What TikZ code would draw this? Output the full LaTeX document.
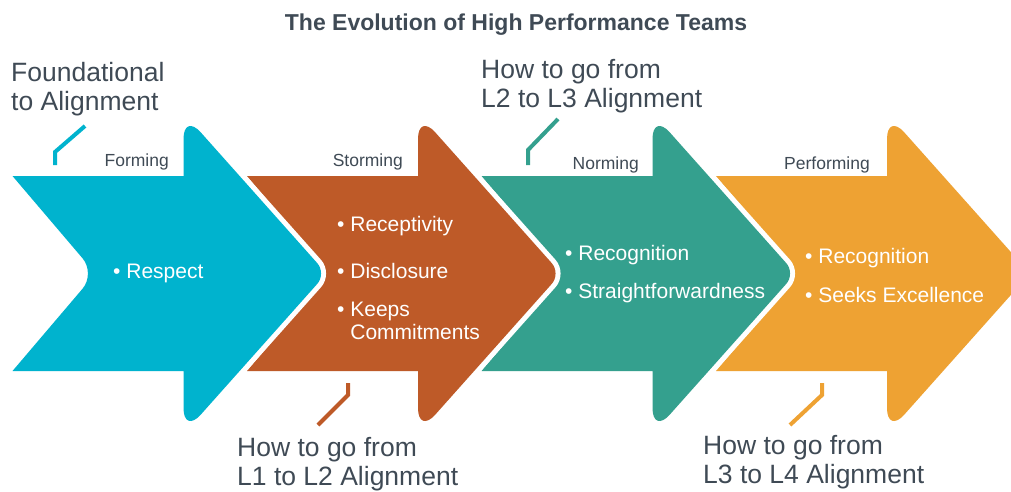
\documentclass[tikz,border=0pt]{standalone}
\usepackage{fontspec}
\setmainfont{Liberation Sans}
\usetikzlibrary{positioning}
\definecolor{FormCyan}  {HTML}{00B3CE}
\definecolor{StormRust} {HTML}{BE5A28}
\definecolor{NormTeal}  {HTML}{34A08E}
\definecolor{PerfGold}  {HTML}{EEA233}
\definecolor{Slate}     {HTML}{3F4A55}
\begin{document}
\begin{tikzpicture}[x=1pt,y=-1pt,
  stage/.style={preaction={draw=white,line width=10pt}},
  phase/.style={font=\fontsize{17.5}{20}\selectfont,text=Slate,inner sep=0pt,anchor=base east},
  item/.style={font=\fontsize{21}{23}\selectfont,text=white,inner sep=0pt,anchor=base west},
  callout/.style={font=\fontsize{26.5}{28.5}\selectfont,text=Slate,inner sep=0pt,anchor=base west,align=left},
  leader/.style={line width=4pt}
]
\clip (0,0) rectangle (1011,491);
\node[font=\bfseries\fontsize{23}{26}\selectfont,text=Slate,anchor=base](title) at (516,30){The Evolution of High Performance Teams};
% stage arrows, right to left so each tip lies over the next notch
\foreach \L/\col in {716/PerfGold,481.5/NormTeal,247/StormRust,12.5/FormCyan}{
  \path[stage,fill=\col] (\L,176) -- (\L+171,176)
    [rounded corners=26] -- (\L+171,113)
    [rounded corners=14] -- (\L+314,273.5)
    [rounded corners=26] -- (\L+171,434)
    [sharp corners] -- (\L+171,371) -- (\L,371)
    [rounded corners=20] -- (\L+83,273.5)
    [sharp corners] -- cycle;
}
\node[phase](forming) at (169,166){Forming};
\node[phase](storming) at (403,166){Storming};
\node[phase](norming) at (639,169){Norming};
\node[phase](performing) at (870,169){Performing};
\node[item](respect) at (113,278){\textbullet\ Respect};
\node[item](recept) at (337,231){\textbullet\ Receptivity};
\node[item](disclo) at (337,278){\textbullet\ Disclosure};
\node[item](keeps) at (337,316){\textbullet\ \begin{tabular}[t]{@{}l@{}}Keeps\\Commitments\end{tabular}};
\node[item](recogn) at (565,260){\textbullet\ Recognition};
\node[item](straight) at (565,298){\textbullet\ Straightforwardness};
\node[item](recogp) at (805,263){\textbullet\ Recognition};
\node[item](seeks) at (805,302){\textbullet\ Seeks Excellence};
% callouts sit on the baseline of their last line
\node[callout](found) at (11,110){Foundational\\to Alignment};
\node[callout](gofrom1) at (237,485){How to go from\\L1 to L2 Alignment};
\node[callout](gofrom2) at (481,107){How to go from\\L2 to L3 Alignment};
\node[callout](gofrom3) at (703,483){How to go from\\L3 to L4 Alignment};
% leader lines
\coordinate(fa) at (85,126);\coordinate(fb) at (55,152);\coordinate(fc) at (55,165);
\coordinate(sa) at (348,383);\coordinate(sb) at (348,395);\coordinate(sc) at (318,425);
\coordinate(na) at (558,119);\coordinate(nb) at (528,150);\coordinate(nc) at (528,165);
\coordinate(pa) at (822,383);\coordinate(pb) at (822,395);\coordinate(pc) at (790,425);
\draw[leader,FormCyan](fa)--(fb)--(fc);
\draw[leader,StormRust](sa)--(sb)--(sc);
\draw[leader,NormTeal](na)--(nb)--(nc);
\draw[leader,PerfGold](pa)--(pb)--(pc);
\end{tikzpicture}
\end{document}
